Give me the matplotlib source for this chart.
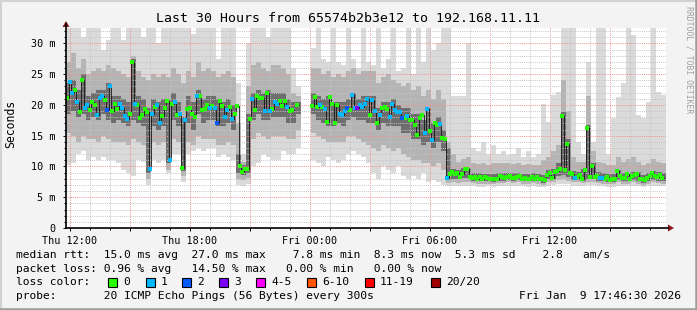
import numpy as np
import matplotlib
matplotlib.use("Agg")
import matplotlib.pyplot as plt
from matplotlib.patches import Rectangle, Polygon
from matplotlib.lines import Line2D
from matplotlib.ticker import FixedLocator, FixedFormatter

nan = np.nan
W, H = 697, 310
MONO = "DejaVu Sans Mono"

title = "Last 30 Hours from 65574b2b3e12 to 192.168.11.11"

# time axis in hours since Thu 11:48, ticks every 3 h
xtick_hours = [0.2, 3.2, 6.2, 9.2, 12.2, 15.2, 18.2, 21.2, 24.2, 27.2]
xtick_labels = ["Thu 12:00", "", "Thu 18:00", "", "Fri 00:00", "", "Fri 06:00", "", "Fri 12:00", ""]
ytick_ms = [0, 5, 10, 15, 20, 25, 30]
ytick_labels = ["0", "5 m", "10 m", "15 m", "20 m", "25 m", "30 m"]

# smoke, 15 minute bins (ms)
smoke_max = [
    32.5, 32.5, 32.5, 31.0, 32.5, 32.5, 32.5, 29.0, 30.5, 32.5,
    32.5, 30.5, 32.5, 32.5, 32.5, 31.0, 32.5, 32.5, 30.0, 32.5,
    32.5, 32.5, 32.5, 32.5, 32.5, 31.5, 32.5, 32.5, 32.5, 32.5,
    27.5, 32.5, 32.5, 32.5, 23.5, 12.0, 30.0, 32.5, 32.5, 32.5,
    31.0, 32.5, 32.5, 32.5, 32.5, 26.0, 23.0, nan, nan, 29.2,
    32.5, 27.5, 27.0, 32.5, 27.0, 26.5, 32.5, 27.5, 26.0, 32.5,
    27.0, 26.5, 32.5, 26.0, 27.5, 32.5, 25.5, 26.0, 32.5, 25.0,
    32.5, 27.0, 32.5, 29.0, 30.0, 32.5, 32.5, 21.4, 21.4, 21.4,
    30.0, 13.0, 12.5, 14.0, 12.0, 13.5, 12.0, 12.5, 11.8, 12.0,
    13.0, 11.5, 12.5, 11.5, 12.0, 20.2, 17.3, 21.6, 22.1, 32.5,
    32.5, 32.5, 14.0, 12.0, 27.0, 14.0, 32.5, 32.5, 12.0, 17.8,
    21.3, 23.5, 32.5, 31.3, 18.3, 17.8, 20.5, 32.5, 22.1, 21.6,
]
smoke_hi_mid = [
    27.0, 28.5, 26.0, 27.5, 25.0, 25.5, 26.0, 25.5, 26.5, 26.0,
    25.5, 25.0, 24.5, 28.0, 25.5, 24.5, 24.0, 25.0, 24.5, 25.0,
    24.5, 26.0, 25.0, 23.5, 25.5, 24.5, 27.0, 25.5, 26.0, 25.5,
    24.5, 25.0, 25.5, 24.5, 17.0, 10.8, 23.0, 26.5, 27.0, 26.0,
    25.5, 26.5, 26.5, 26.0, 25.0, 22.0, 21.5, nan, nan, 26.0,
    26.0, 25.0, 25.5, 24.5, 25.0, 24.5, 25.5, 26.0, 25.0, 25.5,
    25.5, 25.5, 23.5, 24.5, 25.0, 24.0, 23.5, 23.0, 23.5, 22.5,
    23.0, 21.5, 22.5, 21.0, 22.5, 21.0, 14.0, 12.0, 10.8, 11.2,
    11.5, 10.5, 10.4, 10.6, 10.3, 10.5, 10.6, 10.5, 10.6, 10.4,
    10.6, 10.2, 10.4, 10.3, 10.3, 11.0, 11.5, 12.5, 13.5, 24.0,
    19.0, 11.5, 10.8, 10.8, 21.5, 12.5, 10.8, 10.5, 10.2, 10.3,
    11.5, 10.8, 11.2, 11.5, 10.8, 10.2, 10.6, 11.2, 10.8, 10.5,
]
smoke_hi_in = [
    23.5, 24.0, 22.5, 25.0, 21.5, 22.0, 22.5, 22.5, 23.5, 21.5,
    21.5, 21.0, 20.5, 27.5, 21.5, 21.0, 19.5, 21.0, 20.5, 21.0,
    21.0, 22.0, 20.5, 18.0, 21.5, 20.5, 22.5, 21.0, 21.5, 21.5,
    21.0, 20.5, 21.0, 20.0, 12.0, 10.3, 18.5, 22.0, 22.5, 22.0,
    22.5, 22.0, 22.0, 22.0, 21.0, 20.5, 20.5, nan, nan, 22.0,
    21.5, 21.0, 21.5, 20.5, 20.5, 20.5, 21.0, 22.0, 21.0, 21.5,
    21.5, 21.5, 19.5, 20.5, 20.5, 21.0, 20.0, 19.5, 19.5, 18.5,
    18.5, 17.5, 19.5, 17.0, 18.0, 16.0, 13.0, 9.6, 9.4, 9.8,
    9.8, 9.0, 8.9, 8.8, 8.8, 8.7, 9.0, 8.9, 9.0, 8.9,
    9.0, 8.8, 8.8, 8.9, 8.8, 8.6, 9.4, 9.6, 10.5, 18.8,
    14.5, 9.2, 9.1, 9.6, 16.8, 10.5, 9.1, 8.9, 8.8, 8.7,
    9.5, 8.9, 9.0, 9.1, 9.1, 8.6, 9.0, 9.3, 9.1, 8.9,
]
smoke_lo_in = [
    18.5, 19.0, 18.0, 18.5, 17.5, 18.0, 17.5, 18.5, 17.5, 17.0,
    17.5, 17.0, 16.5, 17.5, 17.0, 16.5, 9.0, 16.5, 16.0, 16.5,
    10.5, 17.5, 16.5, 9.2, 17.0, 16.0, 18.5, 17.0, 17.5, 17.5,
    16.5, 16.5, 17.0, 16.0, 9.0, 8.6, 9.0, 17.5, 18.5, 17.5,
    17.5, 18.0, 18.0, 18.0, 17.0, 17.0, 18.5, nan, nan, 18.5,
    17.5, 17.0, 16.5, 16.5, 17.0, 16.5, 17.5, 18.0, 17.5, 17.5,
    17.0, 17.0, 16.0, 17.0, 16.5, 16.5, 16.5, 15.5, 15.5, 14.5,
    14.5, 13.5, 14.0, 13.0, 14.0, 12.5, 7.8, 8.0, 7.9, 8.1,
    8.1, 7.7, 7.6, 7.6, 7.6, 7.5, 7.7, 7.7, 7.8, 7.7,
    7.8, 7.6, 7.6, 7.7, 7.6, 7.3, 8.0, 8.0, 8.5, 8.6,
    8.3, 7.8, 7.8, 7.7, 7.9, 7.9, 7.7, 7.6, 7.5, 7.5,
    7.8, 7.6, 7.6, 7.8, 7.6, 7.3, 7.6, 7.8, 7.7, 7.6,
]
smoke_lo_mid = [
    15.5, 15.0, 14.0, 15.0, 14.5, 14.5, 14.0, 15.0, 14.5, 14.0,
    14.0, 14.0, 13.5, 14.5, 14.0, 13.5, 8.0, 14.0, 13.5, 14.0,
    9.5, 14.5, 14.0, 8.5, 14.0, 13.5, 15.0, 14.5, 14.5, 14.5,
    13.5, 13.5, 14.0, 13.5, 8.0, 7.8, 8.2, 14.5, 15.5, 15.0,
    14.5, 15.0, 15.0, 15.0, 14.5, 14.5, 16.0, nan, nan, 15.5,
    15.0, 14.5, 14.0, 14.0, 14.0, 14.0, 15.0, 15.0, 14.5, 14.0,
    13.5, 13.0, 12.5, 13.5, 13.0, 12.5, 13.0, 12.0, 11.5, 11.0,
    11.0, 10.5, 10.5, 10.0, 10.5, 9.5, 7.3, 7.4, 7.3, 7.5,
    7.5, 7.3, 7.2, 7.2, 7.2, 7.1, 7.3, 7.3, 7.4, 7.3,
    7.4, 7.2, 7.2, 7.3, 7.2, 7.0, 7.5, 7.5, 7.8, 7.9,
    7.7, 7.4, 7.4, 7.3, 7.5, 7.5, 7.3, 7.2, 7.1, 7.1,
    7.4, 7.2, 7.2, 7.4, 7.2, 7.0, 7.2, 7.4, 7.3, 7.2,
]
smoke_min = [
    10.2, 10.5, 12.0, 12.5, 11.0, 11.5, 11.0, 11.5, 11.0, 11.0,
    10.5, 9.5, 9.0, 8.5, 11.0, 10.8, 7.0, 11.0, 10.5, 11.0,
    9.0, 12.0, 12.0, 7.5, 12.0, 12.5, 13.0, 12.5, 13.0, 13.0,
    11.5, 12.0, 11.5, 11.0, 7.0, 6.8, 7.2, 10.0, 10.5, 12.0,
    11.5, 11.0, 11.0, 12.5, 12.0, 12.0, 13.0, nan, nan, 11.0,
    10.5, 10.0, 11.5, 11.0, 10.5, 11.0, 12.0, 12.5, 12.0, 11.5,
    10.5, 9.0, 8.0, 10.0, 9.5, 9.0, 10.0, 8.5, 8.0, 8.5,
    8.0, 9.0, 7.5, 7.8, 7.5, 7.0, 6.8, 6.8, 6.8, 6.9,
    6.9, 6.8, 6.7, 6.7, 6.8, 6.7, 6.8, 6.8, 6.9, 6.8,
    6.9, 6.8, 6.7, 6.8, 6.7, 6.6, 6.9, 7.0, 7.1, 7.2,
    7.1, 6.9, 6.9, 6.8, 7.0, 7.0, 6.8, 6.8, 6.7, 6.6,
    6.9, 6.8, 6.8, 6.9, 6.8, 6.6, 6.8, 6.9, 6.9, 6.8,
]

# median rtt, one sample every 7.5 minutes (ms) and lost pings out of 20
median = [
    21.2, 23.8, 21.9, 22.4, 20.4, 18.8, 24.1, 19.5, 20.0, 19.2,
    20.4, 20.0, 18.3, 21.2, 21.5, 20.8, 19.2, 23.1, 19.0, 20.1,
    19.4, 20.1, 19.5, 18.2, 17.7, 18.6, 27.0, 20.2, 20.0, 17.8,
    18.3, 19.3, 18.8, 9.6, 18.5, 19.6, 20.0, 17.1, 18.2, 19.5,
    20.6, 11.0, 20.1, 20.4, 18.3, 18.5, 9.8, 17.5, 19.3, 19.5,
    18.5, 18.0, 21.5, 21.5, 19.2, 19.3, 20.0, 19.5, 19.9, 19.5,
    17.1, 20.6, 19.9, 18.1, 19.2, 19.7, 17.7, 18.6, 19.9, 10.1,
    9.1, 9.6, 9.6, 17.7, 20.9, 19.2, 21.4, 21.2, 21.1, 19.0,
    21.9, 19.0, 19.3, 20.4, 20.2, 20.6, 19.9, 20.6, 19.7, 19.0,
    19.2, nan, 20.0, nan, nan, nan, nan, nan, 19.9, 21.3,
    19.7, 20.0, 19.7, 19.3, 17.3, 21.3, 20.2, 17.0, 20.0, 18.5,
    18.3, 19.0, 19.5, 19.2, 21.6, 19.5, 19.5, 20.0, 19.7, 20.1,
    21.0, 18.3, 20.8, 19.0, 17.0, 18.3, 19.5, 19.7, 19.4, 18.1,
    20.1, 19.2, 18.8, 18.9, 17.8, 17.9, 18.2, 17.5, 17.5, 16.7,
    15.1, 17.8, 18.3, 15.5, 19.3, 15.8, 14.3, 17.0, 16.8, 16.9,
    14.7, 14.5, 8.2, 8.7, 9.1, 8.7, 9.0, 8.3, 8.7, 9.6,
    9.6, 8.3, 8.2, 8.3, 8.0, 8.3, 7.9, 8.3, 8.2, 7.9,
    8.0, 7.9, 8.0, 8.5, 8.3, 8.2, 8.3, 8.4, 8.2, 8.2,
    8.3, 8.5, 7.9, 8.2, 8.0, 8.0, 8.3, 8.0, 8.3, 7.9,
    8.0, 7.8, 8.6, 8.9, 8.2, 9.1, 9.2, 9.6, 18.2, 9.4,
    13.7, 8.9, 8.7, 8.2, 8.3, 8.6, 7.9, 9.4, 16.3, 8.3,
    10.0, 8.3, 8.5, 8.2, 8.2, 8.0, 8.3, 7.8, 7.9, 8.0,
    9.3, 8.5, 8.2, 8.1, 8.7, 7.9, 8.5, 8.6, 8.7, 7.9,
    7.9, 7.8, 8.2, 8.5, 8.9, 8.5, 8.3, 8.6, 8.2, nan,
]
lost = [
    0, 1, 1, 0, 1, 0, 0, 1, 1, 0,
    0, 0, 1, 1, 1, 0, 2, 1, 0, 0,
    0, 1, 1, 1, 1, 0, 0, 1, 0, 0,
    0, 0, 0, 1, 1, 0, 1, 1, 0, 0,
    0, 1, 0, 1, 0, 1, 0, 1, 0, 0,
    0, 0, 1, 0, 0, 0, 0, 1, 0, 1,
    2, 0, 0, 1, 1, 0, 1, 0, 0, 0,
    0, 0, 0, 0, 1, 0, 0, 0, 0, 1,
    0, 1, 0, 1, 1, 0, 0, 0, 1, 0,
    0, 0, 0, 0, 0, 0, 0, 0, 0, 0,
    0, 1, 0, 1, 0, 0, 0, 0, 0, 1,
    1, 1, 2, 0, 1, 1, 3, 1, 1, 1,
    1, 0, 1, 1, 0, 1, 0, 0, 0, 1,
    1, 1, 1, 1, 2, 0, 1, 0, 0, 0,
    0, 0, 0, 1, 1, 0, 1, 0, 0, 1,
    0, 0, 1, 0, 0, 0, 0, 0, 0, 0,
    0, 0, 0, 0, 0, 0, 0, 0, 0, 0,
    0, 0, 0, 0, 0, 0, 0, 0, 0, 0,
    0, 0, 0, 0, 0, 0, 0, 0, 0, 0,
    0, 0, 0, 0, 0, 0, 0, 0, 0, 0,
    0, 0, 0, 1, 0, 0, 0, 0, 0, 0,
    0, 0, 0, 1, 1, 0, 0, 0, 0, 0,
    0, 0, 0, 0, 0, 0, 0, 0, 0, 0,
    0, 0, 0, 0, 0, 0, 0, 0, 0, 0,
]

loss_labels = ["0", "1", "2", "3", "4-5", "6-10", "11-19", "20/20"]
loss_colors = ["#26ff00", "#00b8ff", "#0059ff", "#7e00ff", "#ff00ff", "#ff5500", "#ff0000", "#a10000"]
loss_upper = [0, 1, 2, 3, 5, 10, 19, 20]

legend_lines = [
    "median rtt:  15.0 ms avg  27.0 ms max    7.8 ms min  8.3 ms now  5.3 ms sd    2.8   am/s",
    "packet loss: 0.96 % avg   14.50 % max   0.00 % min   0.00 % now",
    "loss color:",
    "probe:       20 ICMP Echo Pings (56 Bytes) every 300s",
]
stamp = "Fri Jan  9 17:46:30 2026"


def fx(x):
    return x / W


def fy(y):
    return 1 - y / H


fig = plt.figure(figsize=(W / 100, H / 100), dpi=100, facecolor="#f3f3f3")
ax = fig.add_axes([fx(66), fy(228), 600 / W, 200 / H])
ax.set_facecolor("white")

bin_w = 0.25
bin_left = np.arange(len(smoke_max)) * bin_w
layers = [
    (smoke_min, smoke_max, "#dadada"),
    (smoke_lo_mid, smoke_hi_mid, "#b4b4b4"),
    (smoke_lo_in, smoke_hi_in, "#6e6e6e"),
]
for lo, hi, col in layers:
    lo = np.array(lo)
    hi = np.array(hi)
    ax.bar(bin_left, hi - lo, bottom=lo, width=bin_w, align="edge",
           color=col, linewidth=0, antialiased=False, zorder=1)

step = 0.125
t = np.arange(len(median)) * step + step / 2
med = np.array(median)
lost = np.array(lost)
ax.plot(t, med, drawstyle="steps-mid", color="#151515", lw=0.6, zorder=3)
bucket = np.searchsorted(loss_upper, lost)
for k, col in enumerate(loss_colors):
    m = bucket == k
    if m.any():
        ax.plot(t[m], med[m], "s", ms=2.3, color=col, mew=0, zorder=4)

ax.set_xlim(0, 30)
ax.set_ylim(0, 32.5)
ax.xaxis.set_major_locator(FixedLocator(xtick_hours))
ax.xaxis.set_major_formatter(FixedFormatter(xtick_labels))
ax.xaxis.set_minor_locator(FixedLocator(np.arange(0.2, 30, 1.0)))
ax.yaxis.set_major_locator(FixedLocator(ytick_ms))
ax.yaxis.set_major_formatter(FixedFormatter(ytick_labels))
ax.yaxis.set_minor_locator(FixedLocator(np.arange(1, 33, 1.0)))

ax.set_axisbelow(False)
ax.grid(which="major", color="#f08f8f", lw=0.7, ls=(0, (1, 1.2)))
ax.grid(which="minor", color="#c4c4c4", lw=0.7, ls=(0, (1, 1.2)))

for s in ax.spines.values():
    s.set_visible(False)
ax.tick_params(which="both", direction="out", color="black", width=0.7,
               labelsize=7.3, labelfontfamily=MONO)
ax.tick_params(which="major", length=2.5)
ax.tick_params(which="minor", length=1.5)
ax.tick_params(axis="x", pad=3)
ax.tick_params(axis="y", pad=5)

# axes with arrows
fig.add_artist(Line2D([fx(66), fx(668)], [fy(228), fy(228)], color="black", lw=1.2))
fig.add_artist(Line2D([fx(66), fx(66)], [fy(228), fy(24)], color="black", lw=1.2))
fig.add_artist(Polygon([[fx(668), fy(224.5)], [fx(674), fy(228)], [fx(668), fy(231.5)]],
                       closed=True, color="#8b1a1a", lw=0))
fig.add_artist(Polygon([[fx(62.5), fy(27)], [fx(66), fy(21)], [fx(69.5), fy(27)]],
                       closed=True, color="#8b1a1a", lw=0))

# frame
fig.add_artist(Line2D([0, 1], [fy(0.5), fy(0.5)], color="#d2d2d2", lw=1.5))
fig.add_artist(Line2D([fx(0.5), fx(0.5)], [0, 1], color="#d2d2d2", lw=1.5))
fig.add_artist(Line2D([0, 1], [fy(309), fy(309)], color="#9c9c9c", lw=1.8))
fig.add_artist(Line2D([fx(696), fx(696)], [0, 1], color="#9c9c9c", lw=1.8))

fig.text(fx(348), fy(19), title, ha="center", va="center", fontsize=9.5, family=MONO)
fig.text(fx(11), fy(124), "Seconds", rotation=90, ha="center", va="center",
         fontsize=8.3, family=MONO)
fig.text(fx(689), fy(60), "RRDTOOL / TOBI OETIKER", rotation=270, ha="center",
         va="center", fontsize=5.9, family=MONO, color="#a0a0a0")

rows = [255, 268.5, 282, 296]
for y, line in zip(rows, legend_lines):
    fig.text(fx(16), fy(y), line, ha="left", va="center", fontsize=8.1, family=MONO)
fig.text(fx(681), fy(296), stamp, ha="right", va="center", fontsize=8.1, family=MONO)

box_x = [108, 146, 182, 219, 256, 307, 365, 431]
for bx, lab, col in zip(box_x, loss_labels, loss_colors):
    fig.add_artist(Rectangle((fx(bx), fy(286.5)), 8.5 / W, 8.5 / H, facecolor=col,
                             edgecolor="black", lw=0.8))
    fig.text(fx(bx + 15), fy(282), lab, ha="left", va="center", fontsize=8.1, family=MONO)

fig.savefig("out.png", dpi=100, facecolor=fig.get_facecolor())
